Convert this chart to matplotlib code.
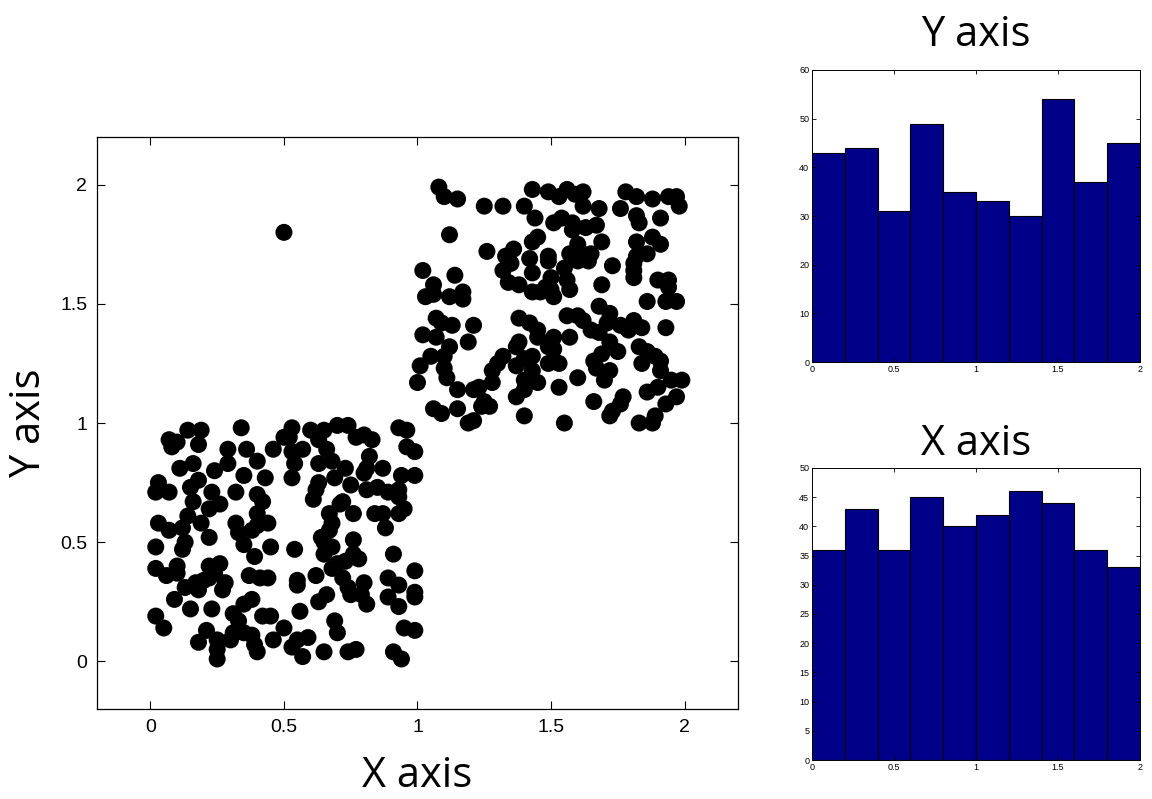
import matplotlib
matplotlib.use("Agg")
import matplotlib.pyplot as plt
from matplotlib.ticker import FuncFormatter

# ---------------- data ----------------
# lower-left cluster (x, y)
low_pts = [
    (0.14,0.97),(0.19,0.97),(0.34,0.98),(0.07,0.93),(0.08,0.90),(0.10,0.92),(0.18,0.91),(0.29,0.89),
    (0.36,0.89),(0.46,0.89),(0.50,0.94),(0.16,0.83),(0.11,0.81),(0.24,0.80),(0.29,0.83),(0.40,0.84),
    (0.35,0.78),(0.43,0.77),(0.03,0.75),(0.02,0.71),(0.07,0.71),(0.15,0.73),(0.18,0.76),(0.23,0.71),
    (0.32,0.71),(0.40,0.70),(0.42,0.67),(0.16,0.67),(0.22,0.64),(0.26,0.66),(0.40,0.62),(0.44,0.58),
    (0.40,0.57),(0.03,0.58),(0.07,0.55),(0.14,0.61),(0.12,0.56),(0.19,0.58),(0.32,0.58),(0.33,0.54),
    (0.38,0.55),(0.22,0.52),
    (0.53,0.98),(0.52,0.94),(0.60,0.97),(0.63,0.93),(0.65,0.97),(0.70,0.99),(0.74,0.99),(0.77,0.94),
    (0.80,0.95),(0.83,0.93),(0.93,0.98),(0.96,0.97),(0.53,0.88),(0.54,0.83),(0.57,0.89),(0.66,0.89),
    (0.68,0.84),(0.63,0.83),(0.73,0.81),(0.82,0.86),(0.81,0.81),(0.80,0.79),(0.87,0.81),(0.96,0.90),
    (0.99,0.88),(0.94,0.78),(0.99,0.78),(0.53,0.77),(0.63,0.75),(0.62,0.72),(0.61,0.68),(0.69,0.77),
    (0.75,0.74),(0.81,0.72),(0.85,0.73),(0.89,0.71),(0.93,0.72),(0.93,0.69),(0.72,0.67),(0.71,0.66),
    (0.95,0.64),(0.93,0.62),(0.76,0.62),(0.84,0.62),(0.87,0.62),(0.67,0.62),(0.68,0.58),(0.67,0.55),
    (0.88,0.56),(0.64,0.52),(0.76,0.51),
    (0.02,0.48),(0.12,0.47),(0.13,0.50),(0.35,0.49),(0.39,0.44),(0.45,0.48),(0.02,0.39),(0.06,0.36),
    (0.10,0.40),(0.10,0.37),(0.22,0.40),(0.26,0.41),(0.24,0.37),(0.17,0.33),(0.20,0.34),(0.22,0.35),
    (0.18,0.30),(0.13,0.31),(0.28,0.33),(0.27,0.30),(0.37,0.36),(0.41,0.35),(0.44,0.35),(0.09,0.26),
    (0.38,0.26),(0.35,0.24),(0.15,0.22),(0.23,0.22),(0.31,0.20),(0.33,0.17),(0.42,0.19),(0.45,0.19),
    (0.02,0.19),(0.05,0.14),(0.50,0.14),(0.21,0.13),(0.18,0.08),(0.25,0.09),(0.25,0.05),(0.25,0.01),
    (0.31,0.12),(0.30,0.09),(0.35,0.12),(0.38,0.11),(0.39,0.07),(0.40,0.04),(0.46,0.09),
    (0.54,0.47),(0.65,0.50),(0.68,0.48),(0.65,0.45),(0.76,0.45),(0.78,0.43),(0.73,0.42),(0.70,0.41),
    (0.68,0.39),(0.91,0.45),(0.55,0.34),(0.55,0.32),(0.62,0.36),(0.72,0.35),(0.74,0.31),(0.75,0.28),
    (0.80,0.33),(0.79,0.28),(0.81,0.24),(0.89,0.35),(0.93,0.32),(0.99,0.38),(0.99,0.29),(0.99,0.27),
    (0.66,0.28),(0.63,0.25),(0.89,0.27),(0.93,0.23),(0.56,0.21),(0.69,0.17),(0.70,0.12),(0.55,0.09),
    (0.59,0.10),(0.53,0.06),(0.57,0.02),(0.65,0.04),(0.74,0.04),(0.77,0.05),(0.91,0.04),(0.94,0.01),
    (0.95,0.14),(0.99,0.13),
]
# upper-right cluster (x, y)
high_pts = [
    (1.08,1.99),(1.10,1.95),(1.15,1.94),(1.25,1.91),(1.32,1.91),(1.40,1.91),(1.43,1.98),(1.49,1.97),
    (1.44,1.86),(1.12,1.79),(1.45,1.78),(1.43,1.76),(1.26,1.72),(1.36,1.73),(1.33,1.70),(1.35,1.67),
    (1.32,1.64),(1.42,1.69),(1.49,1.70),(1.49,1.68),(1.02,1.64),(1.14,1.62),(1.43,1.63),(1.06,1.58),
    (1.03,1.53),(1.06,1.54),(1.17,1.55),(1.12,1.53),(1.17,1.52),(1.34,1.59),(1.38,1.58),(1.43,1.55),
    (1.46,1.55),(1.48,1.57),
    (1.53,1.95),(1.56,1.98),(1.59,1.96),(1.62,1.97),(1.62,1.91),(1.68,1.90),(1.78,1.97),(1.82,1.95),
    (1.88,1.94),(1.94,1.95),(1.97,1.95),(1.98,1.91),(1.76,1.90),(1.82,1.87),(1.83,1.84),(1.91,1.86),
    (1.51,1.84),(1.54,1.86),(1.58,1.84),(1.58,1.81),(1.63,1.82),(1.67,1.83),(1.69,1.76),(1.60,1.75),
    (1.57,1.71),(1.62,1.71),(1.65,1.71),(1.64,1.68),(1.60,1.68),(1.55,1.65),(1.82,1.76),(1.82,1.70),
    (1.81,1.67),(1.88,1.78),(1.91,1.75),(1.86,1.71),(1.73,1.66),(1.81,1.64),(1.81,1.61),(1.50,1.61),
    (1.50,1.56),(1.51,1.53),(1.56,1.60),(1.57,1.56),(1.69,1.58),(1.90,1.60),(1.94,1.60),(1.94,1.57),
    (1.86,1.51),(1.93,1.51),(1.97,1.51),(1.68,1.49),
    (1.07,1.44),(1.09,1.42),(1.13,1.41),(1.21,1.41),(1.02,1.37),(1.07,1.36),(1.19,1.34),(1.12,1.32),
    (1.10,1.28),(1.05,1.28),(1.38,1.44),(1.42,1.42),(1.45,1.39),(1.45,1.36),(1.38,1.34),(1.37,1.32),
    (1.49,1.32),(1.01,1.24),(1.10,1.23),(1.11,1.19),(1.32,1.28),(1.30,1.25),(1.28,1.22),(1.37,1.24),
    (1.40,1.27),(1.43,1.28),(1.43,1.22),(1.40,1.18),(1.45,1.17),(1.40,1.14),(1.49,1.25),(1.00,1.17),
    (1.15,1.14),(1.21,1.14),(1.23,1.15),(1.28,1.17),(1.37,1.11),(1.06,1.06),(1.09,1.04),(1.15,1.06),
    (1.25,1.09),(1.27,1.07),(1.24,1.07),(1.21,1.01),(1.19,1.00),(1.40,1.03),
    (1.56,1.45),(1.60,1.45),(1.62,1.43),(1.72,1.46),(1.71,1.42),(1.65,1.39),(1.68,1.38),(1.76,1.41),
    (1.79,1.39),(1.81,1.43),(1.84,1.40),(1.93,1.40),(1.51,1.36),(1.51,1.31),(1.57,1.36),(1.72,1.34),
    (1.75,1.30),(1.83,1.32),(1.86,1.30),(1.89,1.28),(1.91,1.26),(1.53,1.25),(1.69,1.29),(1.66,1.26),
    (1.67,1.23),(1.72,1.22),(1.70,1.18),(1.84,1.25),(1.91,1.22),(1.95,1.18),(1.99,1.18),(1.60,1.19),
    (1.53,1.15),(1.86,1.13),(1.90,1.15),(1.97,1.11),(1.93,1.08),(1.66,1.09),(1.77,1.11),(1.76,1.08),
    (1.73,1.05),(1.72,1.03),(1.55,1.00),(1.83,1.00),(1.89,1.03),(1.88,1.00),
]
outlier_pts = [(0.50, 1.80)]

# histogram counts (10 bins on [0, 2])
bin_edges = [0.0, 0.2, 0.4, 0.6, 0.8, 1.0, 1.2, 1.4, 1.6, 1.8, 2.0]
y_hist_counts = [43, 44, 31, 49, 35, 33, 30, 54, 37, 45]
x_hist_counts = [36, 43, 36, 45, 40, 42, 46, 44, 36, 33]

main_ticks = [0, 0.5, 1, 1.5, 2]

# ---------------- plotting ----------------
all_pts = low_pts + high_pts + outlier_pts
xs = [p[0] for p in all_pts]
ys = [p[1] for p in all_pts]

fig = plt.figure(figsize=(11.52, 7.99), dpi=100)

label_font = "Open Sans"
tick_font = "Liberation Sans"

ax = fig.add_axes([0.0842, 0.1126, 0.5564, 0.7159])
ax.scatter(xs, ys, s=150, c="black", edgecolors="none", zorder=3)
ax.set_xlim(-0.2, 2.2)
ax.set_ylim(-0.2, 2.2)
ax.set_xticks(main_ticks)
ax.set_yticks(main_ticks)
fmt = FuncFormatter(lambda v, p: "%g" % v)
ax.xaxis.set_major_formatter(fmt)
ax.yaxis.set_major_formatter(fmt)
ax.tick_params(direction="in", length=5.5, width=0.8, top=True, right=True,
               labelsize=14, pad=7)
for lbl in ax.get_xticklabels() + ax.get_yticklabels():
    lbl.set_fontfamily(tick_font)
ax.set_xlabel("X axis", fontsize=30, fontfamily=label_font, labelpad=14)
ax.set_ylabel("Y axis", fontsize=30, fontfamily=label_font, labelpad=7)
for sp in ax.spines.values():
    sp.set_linewidth(0.9)

widths = [bin_edges[i + 1] - bin_edges[i] for i in range(len(bin_edges) - 1)]
lefts = bin_edges[:-1]

def hist_axes(rect, counts, ymax, ystep, title, tpad):
    h = fig.add_axes(rect)
    h.bar(lefts, counts, width=widths, align="edge", color="#000088",
          edgecolor="black", linewidth=0.8)
    h.set_xlim(0, 2)
    h.set_ylim(0, ymax)
    h.set_xticks([0, 0.5, 1, 1.5, 2])
    h.set_yticks(list(range(0, ymax + 1, ystep)))
    h.xaxis.set_major_formatter(fmt)
    h.tick_params(direction="in", length=3, width=0.6, top=True, right=True,
                  labelsize=6.5, pad=2)
    for lbl in h.get_xticklabels() + h.get_yticklabels():
        lbl.set_fontfamily(tick_font)
    h.set_title(title, fontsize=30, fontfamily=label_font, pad=tpad)
    for sp in h.spines.values():
        sp.set_linewidth(0.7)
    return h

hist_axes([0.7049, 0.5469, 0.2847, 0.3655], y_hist_counts, 60, 10, "Y axis", 17)
hist_axes([0.7049, 0.0488, 0.2847, 0.3655], x_hist_counts, 50, 5, "X axis", 9)

fig.savefig("out.png", dpi=100, facecolor="white")
